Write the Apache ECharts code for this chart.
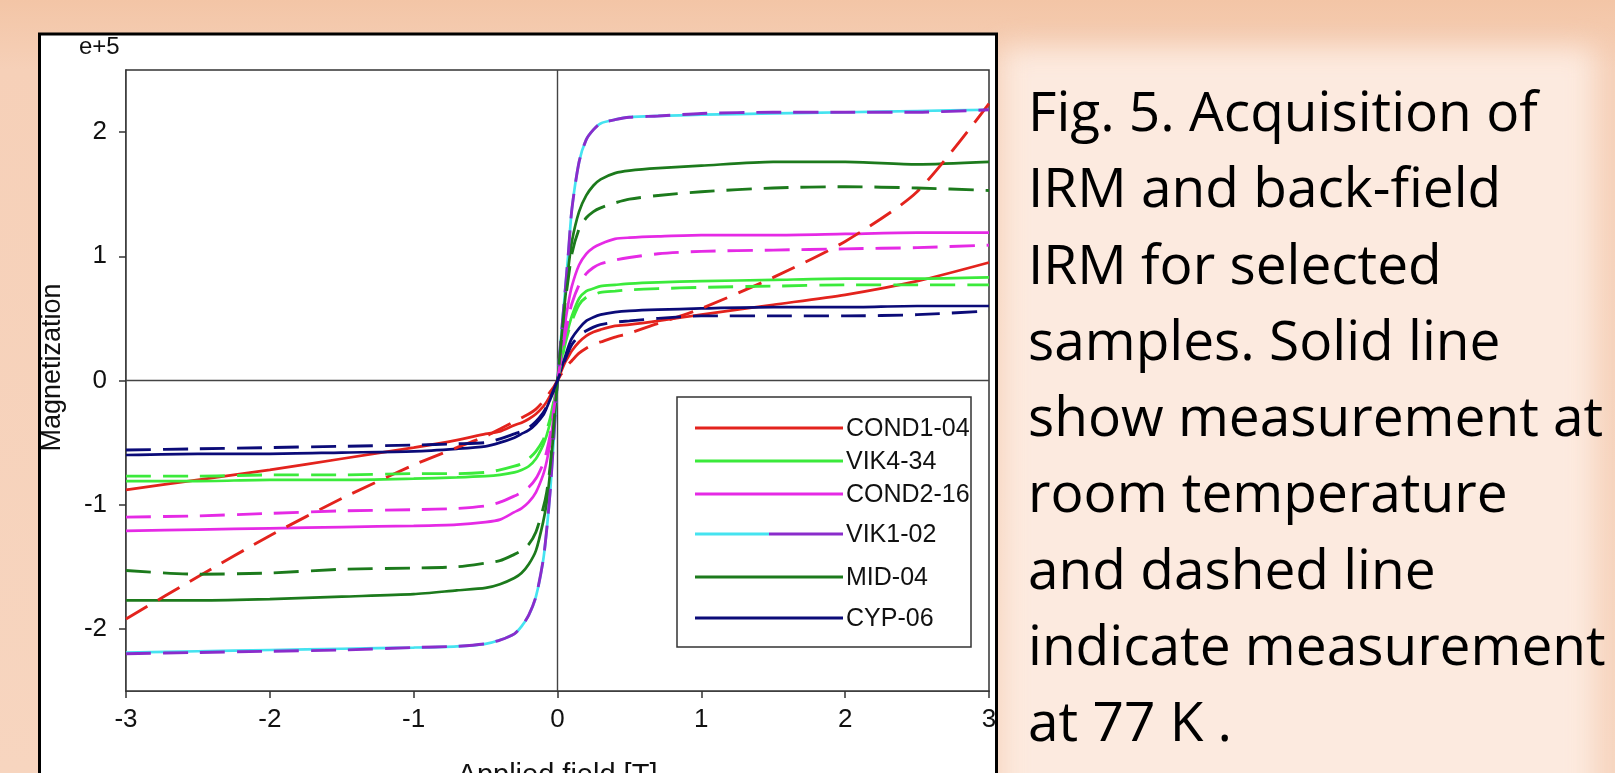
<!DOCTYPE html>
<html><head><meta charset="utf-8">
<script src="https://cdn.jsdelivr.net/npm/echarts@6/dist/echarts.min.js"></script>
<style>
html,body{margin:0;padding:0;width:1615px;height:773px;overflow:hidden;}
body{background:linear-gradient(180deg,#F3C5A6 0%,#F6D0B8 9%,#F7D5BF 100%);position:relative;}
#panel{position:absolute;left:1002px;top:48px;width:592px;height:780px;background:#FCEADF;filter:blur(14px);}
#chart{position:absolute;left:0;top:0;width:1615px;height:773px;}
#caption{position:absolute;left:1028px;top:72px;font-family:'Open Sans',sans-serif;font-size:55px;line-height:76.25px;color:#000;white-space:nowrap;}
</style></head>
<body>
<div id="panel"></div>
<div id="chart"></div>
<div id="caption"></div>
<script>
// ---- data (magnetization in units of e+5) ----
const field = [-3,-2.5,-2,-1.5,-1,-0.7,-0.5,-0.4,-0.3,-0.25,-0.2,-0.15,-0.1,-0.075,-0.05,-0.025,0,0.025,0.05,0.075,0.1,0.15,0.2,0.25,0.3,0.4,0.5,0.7,1,1.5,2,2.5,3];
const sampleNames = ['COND1-04','VIK4-34','COND2-16','VIK1-02','MID-04','CYP-06'];
const xTickLabels = [-3,-2,-1,0,1,2,3];
const yTickLabels = [-2,-1,0,1,2];

const cond1_04_room = [-0.88,-0.80,-0.72,-0.63,-0.54,-0.48,-0.43,-0.41,-0.36,-0.34,-0.31,-0.27,-0.21,-0.17,-0.12,-0.06,0,0.07,0.14,0.19,0.24,0.31,0.36,0.39,0.41,0.44,0.45,0.48,0.53,0.61,0.69,0.80,0.95];
const cond1_04_77k  = [-1.92,-1.58,-1.25,-0.95,-0.68,-0.54,-0.45,-0.39,-0.33,-0.30,-0.27,-0.23,-0.17,-0.13,-0.09,-0.05,0,0.05,0.09,0.13,0.16,0.22,0.26,0.29,0.31,0.35,0.38,0.46,0.58,0.83,1.12,1.52,2.23];
const vik4_34_room  = [-0.81,-0.81,-0.80,-0.80,-0.79,-0.78,-0.77,-0.76,-0.74,-0.72,-0.69,-0.63,-0.52,-0.44,-0.33,-0.17,0,0.15,0.30,0.42,0.52,0.66,0.72,0.74,0.76,0.77,0.78,0.79,0.80,0.81,0.82,0.82,0.83];
const vik4_34_77k   = [-0.77,-0.77,-0.76,-0.76,-0.75,-0.75,-0.74,-0.72,-0.69,-0.67,-0.63,-0.57,-0.48,-0.40,-0.30,-0.16,0,0.14,0.28,0.39,0.48,0.61,0.67,0.69,0.71,0.72,0.73,0.74,0.75,0.76,0.77,0.77,0.77];
const cond2_16_room = [-1.21,-1.20,-1.19,-1.18,-1.17,-1.16,-1.14,-1.12,-1.06,-1.03,-0.98,-0.90,-0.76,-0.65,-0.50,-0.27,0,0.22,0.44,0.62,0.76,0.93,1.02,1.07,1.10,1.14,1.15,1.16,1.17,1.17,1.18,1.19,1.19];
const cond2_16_77k  = [-1.10,-1.09,-1.07,-1.05,-1.04,-1.03,-1.01,-0.98,-0.93,-0.90,-0.86,-0.79,-0.67,-0.57,-0.43,-0.23,0,0.18,0.35,0.50,0.62,0.77,0.86,0.91,0.94,0.97,0.99,1.02,1.04,1.05,1.06,1.07,1.09];
const vik1_02_room  = [-2.19,-2.18,-2.17,-2.16,-2.15,-2.14,-2.12,-2.09,-2.04,-1.98,-1.89,-1.74,-1.45,-1.20,-0.88,-0.45,0,0.35,0.68,1.02,1.38,1.76,1.94,2.02,2.07,2.10,2.12,2.13,2.14,2.15,2.16,2.17,2.18];
const vik1_02_77k   = [-2.20,-2.19,-2.18,-2.17,-2.15,-2.14,-2.12,-2.09,-2.04,-1.98,-1.89,-1.74,-1.45,-1.20,-0.88,-0.45,0,0.35,0.68,1.02,1.38,1.76,1.94,2.02,2.07,2.10,2.12,2.13,2.15,2.16,2.16,2.16,2.18];
const mid_04_room   = [-1.77,-1.77,-1.76,-1.74,-1.72,-1.69,-1.67,-1.64,-1.59,-1.55,-1.48,-1.37,-1.14,-0.98,-0.72,-0.38,0,0.32,0.62,0.90,1.12,1.36,1.49,1.57,1.62,1.67,1.69,1.71,1.73,1.76,1.76,1.74,1.76];
const mid_04_77k    = [-1.53,-1.56,-1.55,-1.52,-1.51,-1.50,-1.47,-1.45,-1.40,-1.37,-1.32,-1.22,-1.03,-0.90,-0.68,-0.35,0,0.30,0.60,0.82,1.02,1.22,1.31,1.36,1.39,1.43,1.46,1.49,1.52,1.55,1.56,1.55,1.53];
const cyp_06_room   = [-0.60,-0.59,-0.59,-0.58,-0.57,-0.55,-0.53,-0.50,-0.46,-0.43,-0.40,-0.35,-0.28,-0.22,-0.15,-0.08,0,0.09,0.18,0.27,0.34,0.42,0.48,0.51,0.53,0.55,0.56,0.57,0.58,0.59,0.59,0.60,0.60];
const cyp_06_77k    = [-0.56,-0.55,-0.54,-0.53,-0.52,-0.51,-0.50,-0.47,-0.43,-0.41,-0.38,-0.33,-0.26,-0.21,-0.14,-0.07,0,0.08,0.16,0.23,0.29,0.36,0.40,0.43,0.45,0.47,0.48,0.50,0.52,0.52,0.52,0.53,0.56];

const captionLines = ['Fig. 5. Acquisition of','IRM and back-field','IRM for selected','samples. Solid line','show measurement at','room temperature','and dashed line','indicate measurement','at 77 K .'];

// ---- styling ----
const roomSets = [cond1_04_room, vik4_34_room, cond2_16_room, vik1_02_room, mid_04_room, cyp_06_room];
const coldSets = [cond1_04_77k, vik4_34_77k, cond2_16_77k, vik1_02_77k, mid_04_77k, cyp_06_77k];
const roomColors = ['#E3231D','#3BEA3B','#E52AE5','#45E3F0','#1C7A1C','#0B0B78'];
const coldColors = ['#E3231D','#3BEA3B','#E52AE5','#8A2CCB','#1C7A1C','#0B0B78'];
const FONT = '"Liberation Sans", Arial, sans-serif';

document.getElementById('caption').innerHTML = captionLines.join('<br>');

const pair = (ys) => field.map((x, i) => [x, ys[i]]);
const series = [];
roomSets.forEach((ys, i) => {
  series.push({
    name: sampleNames[i] + ' (room)', type: 'line', data: pair(ys), showSymbol: false,
    smooth: 0.25, silent: true, z: 3,
    lineStyle: { color: roomColors[i], width: 2.7, type: 'solid' }
  });
  series.push({
    name: sampleNames[i] + ' (77 K)', type: 'line', data: pair(coldSets[i]), showSymbol: false,
    smooth: 0.25, silent: true, z: 4,
    lineStyle: { color: coldColors[i], width: 2.9, type: [25, 12] }
  });
});
series[0].markLine = {
  silent: true, symbol: 'none', label: { show: false }, z: 1,
  lineStyle: { color: '#444', width: 1.4, type: 'solid' },
  data: [{ xAxis: 0 }, { yAxis: 0 }]
};

// legend drawn as graphic elements
const legendRows = [428, 461, 494, 534, 577, 618];
const legendGraphics = [{
  type: 'rect', shape: { x: 677, y: 397, width: 294, height: 250 },
  style: { fill: '#fff', stroke: '#333', lineWidth: 1.5 }, z: 50
}];
sampleNames.forEach((n, i) => {
  const y = legendRows[i];
  if (roomColors[i] !== coldColors[i]) {
    legendGraphics.push({ type: 'line', shape: { x1: 695, y1: y, x2: 769, y2: y }, style: { stroke: roomColors[i], lineWidth: 3 }, z: 51 });
    legendGraphics.push({ type: 'line', shape: { x1: 769, y1: y, x2: 843, y2: y }, style: { stroke: coldColors[i], lineWidth: 3 }, z: 51 });
  } else {
    legendGraphics.push({ type: 'line', shape: { x1: 695, y1: y, x2: 843, y2: y }, style: { stroke: roomColors[i], lineWidth: 3 }, z: 51 });
  }
  legendGraphics.push({ type: 'text', x: 846, y: y + 1, style: { text: n, font: '25px ' + FONT, fill: '#111', verticalAlign: 'middle', align: 'left' }, z: 51 });
});

const chart = echarts.init(document.getElementById('chart'), null, { renderer: 'canvas' });
chart.setOption({
  backgroundColor: 'transparent',
  animation: false,
  grid: { left: 126, top: 70, width: 863, height: 621, containLabel: false, outerBoundsMode: 'none', show: true, borderColor: '#333', borderWidth: 1.5, backgroundColor: '#fff', z: 1 },
  xAxis: {
    type: 'value', min: -3, max: 3, interval: 1,
    name: 'Applied field [T]', nameLocation: 'middle', nameGap: 70,
    nameTextStyle: { fontFamily: FONT, fontSize: 29, color: '#111' },
    axisLine: { show: true, onZero: false, lineStyle: { color: '#333', width: 1.5 } },
    axisTick: { show: true, inside: false, length: 7, lineStyle: { color: '#333', width: 1.5 }, customValues: xTickLabels },
    axisLabel: { fontFamily: FONT, fontSize: 26, color: '#111', margin: 16, customValues: xTickLabels },
    splitLine: { show: false }
  },
  yAxis: {
    type: 'value', min: -2.5, max: 2.5,
    name: 'Magnetization', nameLocation: 'middle', nameGap: 60, nameRotate: 90,
    nameTextStyle: { fontFamily: FONT, fontSize: 27, color: '#111', padding: [0, 0, 0, 26] },
    axisLine: { show: true, onZero: false, lineStyle: { color: '#333', width: 1.5 } },
    axisTick: { show: true, inside: false, length: 7, lineStyle: { color: '#333', width: 1.5 }, customValues: yTickLabels },
    axisLabel: { fontFamily: FONT, fontSize: 26, color: '#111', margin: 19, customValues: yTickLabels },
    splitLine: { show: false }
  },
  graphic: [
    { type: 'rect', shape: { x: 40, y: 34, width: 956, height: 800 }, style: { fill: '#fff' }, z: -100 },
    { type: 'rect', shape: { x: 39.5, y: 34, width: 957, height: 800 }, style: { fill: null, stroke: '#000', lineWidth: 3 }, z: 100 },
    { type: 'text', x: 79, y: 35, style: { text: 'e+5', font: '24px ' + FONT, fill: '#111' }, z: 50 }
  ].concat(legendGraphics),
  series: series
});
</script>
</body></html>
